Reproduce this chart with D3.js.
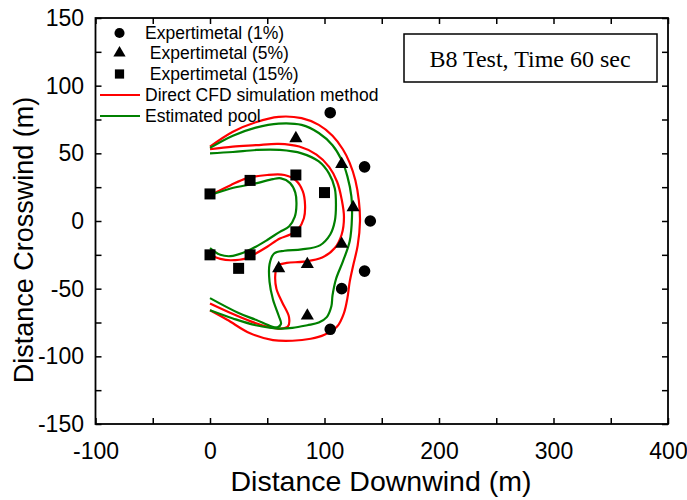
<!DOCTYPE html>
<html><head><meta charset="utf-8">
<script src="https://cdn.jsdelivr.net/npm/d3@7"></script>
<style>
html,body{margin:0;padding:0;background:#fff;}
svg{display:block;font-family:"Liberation Sans",Arial,sans-serif;}
</style></head>
<body>
<svg id="chart" width="687" height="500"></svg>
<script>
// ---- data ----
const xTicks = [-100,-50,0,50,100,150,200,250,300,350,400];
const xTickLabels = [-100,0,100,200,300,400];
const yTicks = [-150,-125,-100,-75,-50,-25,0,25,50,75,100,125,150];
const yTickLabels = [-150,-100,-50,0,50,100,150];

const exp1 = [[105,80],[135,40],[140,0],[135,-37],[115,-50],[105,-80]];
const exp5 = [[75,61],[115,42],[125,10],[115,-17],[85,-32],[60,-35],[85,-70]];
const exp15 = [[0,20],[35,30],[75,34],[100,21],[75,-8],[0,-25],[35,-25],[25,-35]];

const redOuter = [[0,55],[20,66],[40,73],[60,77],[80,76],[95,71],[107,63],[116,53],[122,43],[127,30],[130,15],[131,0],[129,-18],[125,-33],[122,-45],[120,-57],[117,-68],[111,-78],[100,-84],[88,-87],[72,-88.5],[55,-88],[35,-83],[15,-73],[0,-66]];
const greenOuter = [[0,54],[20,63],[40,69],[60,72],[80,71],[95,65],[107,56],[115,45],[120,33],[123.5,18],[124,3],[122,-15],[116,-30],[110,-43],[107,-55],[106,-63],[102,-71],[95,-75],[85,-77],[72,-79],[60,-79.5],[40,-77],[20,-72],[0,-66]];
const redMiddle = [[0,53],[20,55],[40,56],[60,57],[78,55],[93,49],[104,40],[111,29],[115,16],[117,3],[115,-10],[109,-20],[98,-27],[82,-30],[67,-31],[59,-33],[57,-40],[58,-50],[63,-60],[69,-71],[68,-78],[62,-79.5],[50,-78],[35,-74],[18,-68],[0,-61]];
const greenMiddle = [[0,50],[20,51],[41,52.5],[61,52.5],[80,50],[95,44],[104,35],[109,24],[110,12],[109,0],[105,-10],[96,-18],[80,-21],[65,-22],[56,-24],[52,-32],[52,-45],[55,-58],[60,-70],[62,-76],[59,-78.5],[54,-78],[40,-73],[25,-68],[0,-57]];
const redInner = [[0,19],[18,26.5],[32,31.5],[50,34],[65,34],[75,30],[81,22],[83,12],[82,2],[77,-6],[70,-10],[61,-13],[50,-19],[40,-24],[32,-27.5],[18,-29],[9,-28],[0,-25]];
const greenInner = [[0,19],[18,24],[41,28],[55,31],[62,31.5],[70,28],[74.5,21],[75.5,12],[74,3],[69,-4],[61,-8],[50,-14],[40,-19],[29,-23.5],[18,-26],[9,-25],[0,-20]];

const legendLabels = ["Expertimetal (1%)"," Expertimetal (5%)"," Expertimetal (15%)","Direct CFD simulation method","Estimated pool"];
const boxText = "B8 Test, Time 60 sec";

// ---- layout ----
const L = 95.5, R = 668, T = 18, B = 424;
const svg = d3.select("#chart");
const x = d3.scaleLinear().domain([-100,400]).range([L,R]);
const y = d3.scaleLinear().domain([-150,150]).range([B,T]);

const RED = "#ff0000", GREEN = "#008000";

// axes
const fmt = (list) => d => list.includes(d) ? d : "";
const axB = svg.append("g").attr("transform",`translate(0,${B})`)
  .call(d3.axisBottom(x).tickValues(xTicks).tickFormat(fmt(xTickLabels)).tickSizeInner(-6).tickSizeOuter(0).tickPadding(19));
const axT = svg.append("g").attr("transform",`translate(0,${T})`)
  .call(d3.axisTop(x).tickValues(xTicks).tickFormat("").tickSizeInner(-6).tickSizeOuter(0));
const axL = svg.append("g").attr("transform",`translate(${L},0)`)
  .call(d3.axisLeft(y).tickValues(yTicks).tickFormat(fmt(yTickLabels)).tickSizeInner(-6).tickSizeOuter(0).tickPadding(11.5));
const axR = svg.append("g").attr("transform",`translate(${R},0)`)
  .call(d3.axisRight(y).tickValues(yTicks).tickFormat("").tickSizeInner(-6).tickSizeOuter(0));
[axB,axT,axL,axR].forEach(g=>{
  g.select(".domain").remove();
  g.selectAll(".tick line").attr("stroke","#000").attr("stroke-width",1.5);
  g.selectAll(".tick text").attr("font-size",23).attr("fill","#000").attr("font-family","'Liberation Sans',Arial,sans-serif");
});
svg.append("rect").attr("x",L).attr("y",T).attr("width",R-L).attr("height",B-T)
  .attr("fill","none").attr("stroke","#000").attr("stroke-width",1.8);

// titles
svg.append("text").attr("x",381).attr("y",491).attr("text-anchor","middle")
  .attr("font-size",28.5).text("Distance Downwind (m)");
svg.append("text").attr("transform","translate(33,240) rotate(-90)").attr("text-anchor","middle")
  .attr("font-size",27).text("Distance Crosswind (m)");

// contour lines
const line = d3.line().x(d=>x(d[0])).y(d=>y(d[1])).curve(d3.curveCatmullRom.alpha(0.5));
const curves = [
  {d:redOuter,c:RED},{d:redMiddle,c:RED},{d:redInner,c:RED},
  {d:greenOuter,c:GREEN},{d:greenMiddle,c:GREEN},{d:greenInner,c:GREEN}
];
svg.append("g").selectAll("path").data(curves).join("path")
  .attr("d",k=>line(k.d)).attr("fill","none").attr("stroke",k=>k.c).attr("stroke-width",2.2);

// markers
const sym = {
  circle: d3.symbol().type(d3.symbolCircle).size(106),
  tri: d3.symbol().type(d3.symbolTriangle).size(75),
  sq: d3.symbol().type(d3.symbolSquare).size(121)
};
const mk = (data,gen) => svg.append("g").selectAll("path").data(data).join("path")
  .attr("transform",d=>`translate(${x(d[0])},${y(d[1])})`).attr("d",gen()).attr("fill","#000");
mk(exp1,sym.circle); mk(exp5,sym.tri); mk(exp15,sym.sq);

// legend
const lg = svg.append("g");
const legY = [33,53,74,95,116];
const legSym = [d3.symbol().type(d3.symbolCircle).size(80), d3.symbol().type(d3.symbolTriangle).size(65), d3.symbol().type(d3.symbolSquare).size(85)];
legSym.forEach((g,i)=>{
  lg.append("path").attr("transform",`translate(119.5,${legY[i]})`).attr("d",g()).attr("fill","#000");
});
lg.append("line").attr("x1",100).attr("x2",140).attr("y1",legY[3]).attr("y2",legY[3]).attr("stroke",RED).attr("stroke-width",2.2);
lg.append("line").attr("x1",100).attr("x2",140).attr("y1",legY[4]).attr("y2",legY[4]).attr("stroke",GREEN).attr("stroke-width",2.2);
legendLabels.forEach((t,i)=>{
  lg.append("text").attr("x",145).attr("y",legY[i]).attr("dy","0.35em").attr("font-size",17.5)
    .attr("xml:space","preserve").style("white-space","pre").text(t);
});

// annotation box
svg.append("rect").attr("x",404).attr("y",34).attr("width",253).attr("height",48)
  .attr("fill","#fff").attr("stroke","#000").attr("stroke-width",1.5);
svg.append("text").attr("x",530).attr("y",67).attr("text-anchor","middle")
  .attr("font-family","'Liberation Serif','Times New Roman',serif").attr("font-size",24).text(boxText);
</script>
</body></html>
